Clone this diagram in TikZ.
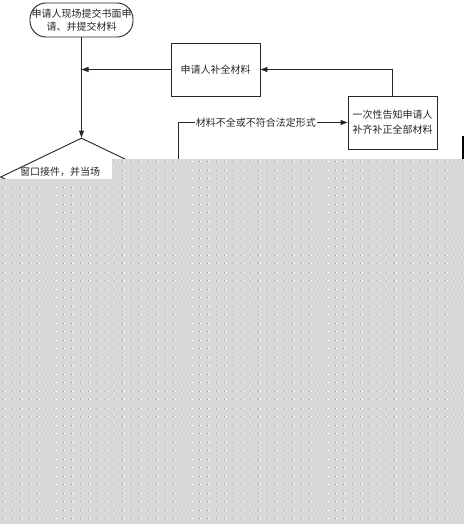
\documentclass[tikz,border=0pt]{standalone}
\usepackage{fontspec}
\newfontfamily\cjk{Noto Sans CJK SC}
\usetikzlibrary{arrows.meta,shapes.geometric}
\definecolor{graybg}{HTML}{D8D8D8}
\definecolor{dotdark}{HTML}{8C8C8C}
\definecolor{inkc}{HTML}{262626}
\begin{document}
\begin{tikzpicture}[x=1pt,y=-1pt,
  ln/.style={draw=inkc, line width=0.9pt},
  arr/.style={ln, -{Triangle[length=7pt,width=5pt]}},
  txt/.style={font=\cjk\fontsize{10}{12.5}\selectfont, text=inkc},
  boxnode/.style={ln, txt, minimum width=89, minimum height=53, inner sep=0, align=center},
]
\useasboundingbox (0,0) rectangle (464,524);
\fill[white] (0,0) rectangle (464,524);
\node[ln, txt, rounded corners=16, minimum width=103, minimum height=34, inner sep=0, align=center] (start) at (81.5,20) {申请人现场提交书面申\\请、并提交材料};
\node[boxnode] (supp) at (215.5,69.5) {申请人补全材料};
\node[boxnode, font=\cjk\fontsize{10}{15}\selectfont] (notify) at (392.5,122.5) {一次性告知申请人\\补齐补正全部材料};
\node[ln, diamond, minimum width=162, minimum height=78, inner sep=0, aspect=2.08] (check) at (81.5,177) {};
\node[txt, anchor=west, inner sep=0] (checktxt) at (20,172) {窗口接件，并当场};
\draw[arr] (start.south) -- (check.north);
\draw[arr] (supp.west) -- (supp.west -| start.south);
\draw[arr] (notify.north) |- (supp.east);
\coordinate (hid) at (178,175);
\draw[arr] (hid) |- node[pos=0.73, fill=white, txt, inner sep=1pt] (lbl) {材料不全或不符合法定形式} (notify.west);
\begin{scope}
\clip (0,179) -- (112,179) -- (112,159) -- (464,159) -- (464,524) -- (0,524) -- cycle;
\fill[graybg] (0,150) rectangle (464,524);
\foreach \i in {0,...,54} \foreach \j in {0,...,43} {
  \fill[dotdark] ({3+\i*8.5},{161+\j*8.5}) rectangle +(1.3,1.3);
  \fill[white] ({4.3+\i*8.5},{161+\j*8.5}) rectangle +(1.3,1.3);
}
\end{scope}
\draw[black, line width=1.5pt] (463.2,136) -- (463.2,159);
\end{tikzpicture}
\end{document}
